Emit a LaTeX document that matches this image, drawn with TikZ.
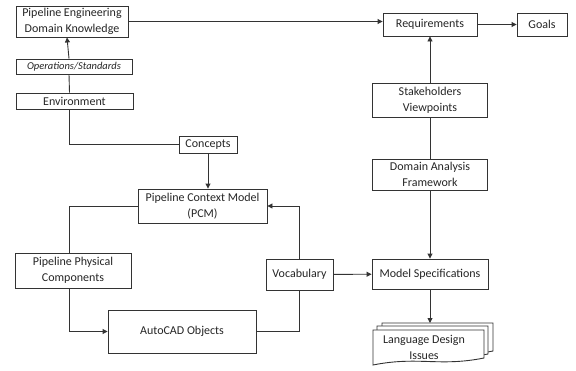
\documentclass[tikz,border=0pt]{standalone}
\usepackage{fontspec}
\setmainfont{Carlito}
\usetikzlibrary{positioning,arrows.meta}

\tikzset{
  box/.style={draw=black!80, line width=0.9pt, fill=white, align=center, inner sep=1pt,
    font=\fontsize{12}{16}\selectfont, text=black!85},
  link/.style={draw=black!80, line width=0.9pt},
  arrow/.style={link, -{Triangle[length=5pt,width=5pt]}},
  pagefill/.style={draw=black!80, line width=0.9pt, fill=white}
}

% one page of the stacked document shape
\newcommand{\ldipage}[2]{
  \draw[pagefill] ([shift={(#1,#2)}]ldi) -- ++(111,0) -- ++(0,28)
    .. controls +(-45,9) and +(45,-9) .. ++(-111,7) -- cycle;
}

\begin{document}
\begin{tikzpicture}[x=1pt,y=-1pt]
  \useasboundingbox (0,0) rectangle (576,370);

  % left column
  \node[box, minimum width=112pt, minimum height=31pt] (ped) at (72,21.5) {Pipeline Engineering\\Domain Knowledge};
  \node[box, minimum width=116pt, minimum height=15pt, font=\fontsize{10.5}{12}\selectfont\itshape] (ops) at (74,66.5) {Operations/Standards};
  \node[box, minimum width=117pt, minimum height=16pt] (env) at (74.5,101) {Environment};
  \node[box, minimum width=58pt, minimum height=17pt] (con) at (208,144.5) {Concepts};
  \node[box, minimum width=129pt, minimum height=34pt] (pcm) at (202.5,206) {Pipeline Context Model\\(PCM)};
  \node[box, minimum width=116pt, minimum height=35pt] (ppc) at (73,270.5) {Pipeline Physical\\Components};
  \node[box, minimum width=148pt, minimum height=43pt] (aco) at (182,331.5) {AutoCAD Objects};
  \node[box, minimum width=67pt, minimum height=31pt] (voc) at (299.5,274.5) {Vocabulary};

  % right column
  \node[box, minimum width=94pt, minimum height=23pt] (req) at (430,24.5) {Requirements};
  \node[box, minimum width=50pt, minimum height=23pt] (goals) at (542,24.5) {Goals};
  \node[box, minimum width=115pt, minimum height=34pt] (stk) at (430,100) {Stakeholders\\Viewpoints};
  \node[box, minimum width=115pt, minimum height=31pt] (daf) at (430,174.5) {Domain Analysis\\Framework};
  \node[box, minimum width=116pt, minimum height=30pt] (msp) at (430,274) {Model Specifications};

  % stacked documents
  \coordinate (ldi) at (373,330);
  \coordinate (ldiback) at (430,323);
  \ldipage{9}{-7}
  \ldipage{4}{-4}
  \ldipage{0}{0}
  \node[font=\fontsize{12}{16}\selectfont, text=black!85, align=center] (ldit) at (424,347.5) {Language Design\\Issues};

  % connectors
  \draw[arrow] (ped.east) -- (req.west |- ped.east);
  \draw[arrow] (req) -- (goals);
  \draw[arrow] (stk) -- (req);
  \draw[link] (daf) -- (stk);
  \draw[arrow] (daf) -- (msp);
  \draw[arrow] (msp) -- (ldiback);
  \draw[arrow] (voc) -- (msp);
  \draw[arrow] (voc.north) |- (pcm.east);
  \draw[link] (voc.south) |- (aco.east);
  \draw[link] (pcm.west) -| ([xshift=-4pt]ppc.north);
  \draw[arrow] ([xshift=-4pt]ppc.south) |- (aco.west);
  \draw[link] ([xshift=-5pt]env.south) |- (con.west);
  \draw[arrow] (con.south) -- (con.south |- pcm.north);
  \draw[link] ([xshift=-5pt]env.north) -- ([xshift=-5pt]ops.south);
  \draw[arrow] ([xshift=-5pt]ops.north) -- ([xshift=-5pt]ped.south);
\end{tikzpicture}
\end{document}
